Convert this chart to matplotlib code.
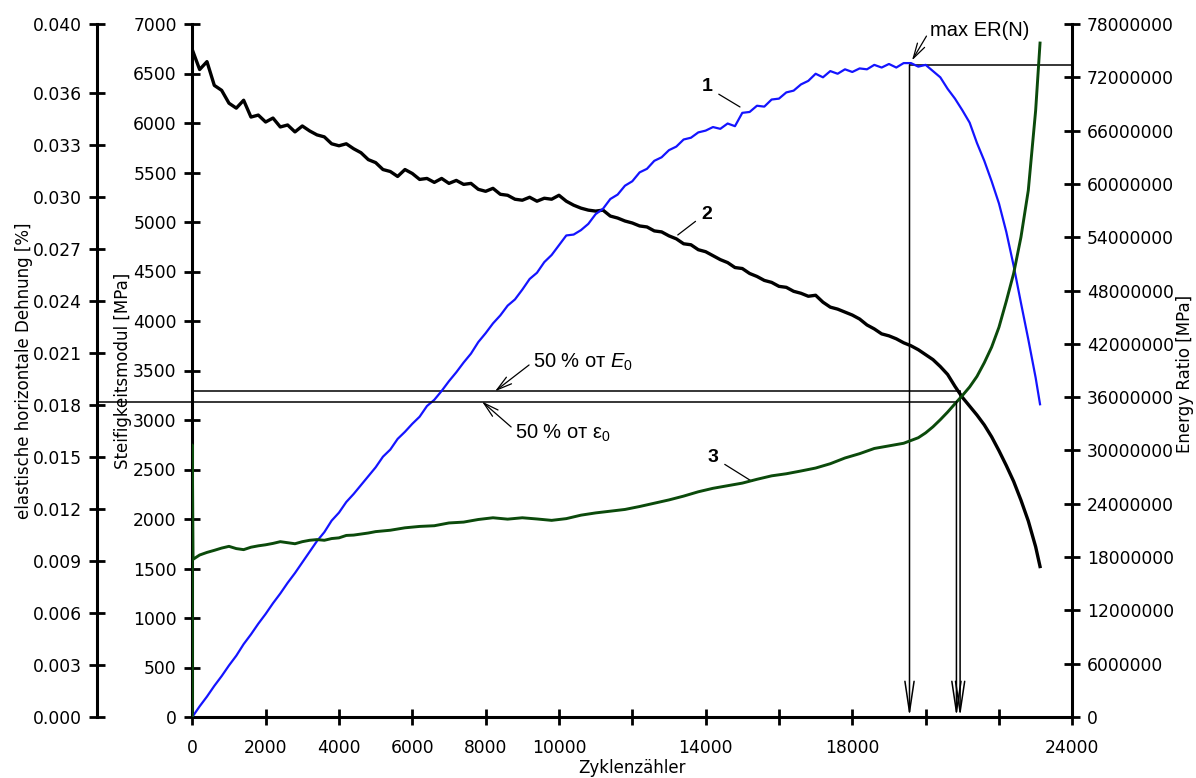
import matplotlib
matplotlib.use('Agg')
import matplotlib.pyplot as plt
from matplotlib.ticker import FixedLocator, FixedFormatter

# ---------------- data ----------------
# Curve 2: Steifigkeitsmodul E [MPa], readings every 200 cycles
E_CYC = list(range(0, 23001, 200)) + [23120]
E_VAL = [6740, 6540, 6620, 6380, 6330, 6200, 6150, 6230, 6060, 6080,
         6010, 6050, 5960, 5980, 5910, 5970, 5920, 5880, 5860, 5790,
         5770, 5790, 5740, 5700, 5630, 5600, 5530, 5510, 5460, 5530,
         5490, 5430, 5440, 5400, 5440, 5390, 5420, 5380, 5390, 5330,
         5310, 5340, 5280, 5270, 5230, 5220, 5250, 5210, 5240, 5230,
         5270, 5210, 5170, 5140, 5120, 5110, 5120, 5060, 5040, 5010,
         4990, 4960, 4950, 4910, 4900, 4860, 4830, 4780, 4770, 4720,
         4700, 4660, 4620, 4590, 4540, 4530, 4480, 4450, 4410, 4390,
         4350, 4340, 4300, 4280, 4250, 4260, 4190, 4140, 4120, 4090,
         4060, 4020, 3960, 3920, 3870, 3850, 3820, 3780, 3750, 3710,
         3660, 3610, 3540, 3460, 3340, 3230, 3140, 3050, 2950, 2830,
         2690, 2540, 2380, 2190, 1980, 1720,
         1520]

# Curve 1: Energy Ratio [MPa] (in millions), readings every 200 cycles
ER_CYC = list(range(0, 23001, 200)) + [23120]
ER_MIO = [0.0, 1.2, 2.3, 3.5, 4.6, 5.8, 6.9, 8.2, 9.3, 10.5,
          11.6, 12.8, 13.9, 15.1, 16.2, 17.4, 18.6, 19.8, 20.8, 22.1,
          23.0, 24.2, 25.1, 26.1, 27.1, 28.1, 29.3, 30.1, 31.3, 32.1,
          33.0, 33.8, 35.0, 35.7, 36.7, 37.8, 38.8, 39.9, 40.9, 42.2,
          43.2, 44.3, 45.2, 46.3, 47.0, 48.1, 49.3, 50.0, 51.2, 52.0,
          53.1, 54.2, 54.3, 54.8, 55.5, 56.6, 57.2, 58.3, 58.8, 59.8,
          60.3, 61.3, 61.7, 62.6, 63.0, 63.8, 64.2, 65.0, 65.2, 65.8,
          66.0, 66.4, 66.2, 66.8, 66.5, 68.0, 68.1, 68.8, 68.7, 69.5,
          69.6, 70.3, 70.5, 71.2, 71.6, 72.4, 72.0, 72.7, 72.4, 72.9,
          72.6, 73.0, 72.9, 73.4, 73.1, 73.5, 73.1, 73.6, 73.6, 73.2,
          73.4, 72.7, 72.0, 70.7, 69.6, 68.3, 66.9, 64.6, 62.6, 60.3,
          57.8, 54.6, 50.8, 46.6, 42.5, 38.2,
          35.2]

# Curve 3: elastische horizontale Dehnung [%]
EPS_CYC = [0, 0, 20, 200, 400, 600, 800, 1000, 1200, 1400, 1600, 1800,
           2000, 2200, 2400, 2600, 2800, 3000, 3200, 3400, 3600, 3800,
           4000, 4200, 4400, 4600, 4800, 5000, 5400, 5800, 6200, 6600,
           7000, 7400, 7800, 8200, 8600, 9000, 9400, 9800, 10200, 10600,
           11000, 11400, 11800, 12200, 12600, 13000, 13400, 13800, 14200, 14600,
           15000, 15400, 15800, 16200, 16600, 17000, 17400, 17800, 18200, 18600,
           19000, 19400, 19800, 20000, 20200, 20400, 20600, 20800, 21000, 21200,
           21400, 21600, 21800, 22000, 22200, 22400, 22600, 22800, 23000, 23120]
EPS_VAL = [0.0, 0.0157, 0.0091, 0.00935, 0.00950, 0.00962, 0.00975, 0.00985, 0.00972,
           0.00966, 0.00980, 0.00988,
           0.00994, 0.01002, 0.01012, 0.01006, 0.01000, 0.01012, 0.01020, 0.01024,
           0.01020, 0.01030,
           0.01034, 0.01048, 0.01050, 0.01056, 0.01062, 0.01070, 0.01078, 0.01092,
           0.01100, 0.01104,
           0.01120, 0.01125, 0.01140, 0.01150, 0.01142, 0.01150, 0.01143, 0.01135,
           0.01145, 0.01165,
           0.01178, 0.01188, 0.01198, 0.01215, 0.01234, 0.01253, 0.01275, 0.01300,
           0.01320, 0.01335,
           0.01350, 0.01372, 0.01392, 0.01404, 0.01420, 0.01437, 0.01462, 0.01495,
           0.01520, 0.01550,
           0.01565, 0.01580, 0.01612, 0.01640, 0.01675, 0.01716, 0.01760, 0.01808,
           0.01855, 0.01905,
           0.01966, 0.02045, 0.02135, 0.02250, 0.02400, 0.02560, 0.02770, 0.03040,
           0.03500, 0.03890]

# reference values
C_MAX_ER, ER_MAX = 19560, 73.4e6          # max ER(N)
C_E50, E_50 = 20940, 3290                 # 50 % of E0
C_EPS50, EPS_50 = 20840, 0.01821          # 50 % of eps0

# ticks
X_TICKS = [0, 2000, 4000, 6000, 8000, 10000, 12000, 14000, 16000, 18000, 20000, 22000, 24000]
X_LABELS = ['0', '2000', '4000', '6000', '8000', '10000', '', '14000', '', '18000', '', '', '24000']
E_TICKS = [0, 500, 1000, 1500, 2000, 2500, 3000, 3500, 4000, 4500, 5000, 5500, 6000, 6500, 7000]
ER_TICKS = [0, 6e6, 12e6, 18e6, 24e6, 30e6, 36e6, 42e6, 48e6, 54e6, 60e6, 66e6, 72e6, 78e6]
EPS_TICKS = [0.000, 0.003, 0.006, 0.009, 0.012, 0.015, 0.018, 0.021, 0.024, 0.027,
             0.030, 0.033, 0.036, 0.040]

# ---------------- style ----------------
plt.rcParams['font.family'] = ['DejaVu Sans']
plt.rcParams['font.size'] = 12
plt.rcParams['mathtext.fontset'] = 'custom'
plt.rcParams['mathtext.rm'] = 'Liberation Sans'
plt.rcParams['mathtext.it'] = 'Liberation Sans:italic'

W, H = 1196, 778
fig = plt.figure(figsize=(W / 100, H / 100), dpi=100)
ax = fig.add_axes([192.3 / W, 1 - 717 / H, 880 / W, 693 / H])
ax_er = ax.twinx()
ax_eps = ax.twinx()

EPS_SPINE = -0.1083
SP_LW = 2.2

for a in (ax, ax_er, ax_eps):
    a.set_xlim(0, 24000)
    for s in a.spines.values():
        s.set_visible(False)
    a.patch.set_visible(False)
ax.set_ylim(0, 7000)
ax_er.set_ylim(0, 78e6)
ax_eps.set_ylim(0, 0.040)

ax.spines['left'].set_visible(True)
ax.spines['bottom'].set_visible(True)
ax_er.spines['right'].set_visible(True)
ax_eps.spines['left'].set_visible(True)
ax_eps.spines['left'].set_position(('axes', EPS_SPINE))
ax_eps.yaxis.set_ticks_position('left')
ax_eps.yaxis.set_label_position('left')
for a, side in ((ax, 'left'), (ax, 'bottom'), (ax_er, 'right'), (ax_eps, 'left')):
    a.spines[side].set_linewidth(SP_LW)

ax.xaxis.set_major_locator(FixedLocator(X_TICKS))
ax.xaxis.set_major_formatter(FixedFormatter(X_LABELS))
ax.yaxis.set_major_locator(FixedLocator(E_TICKS))
ax.yaxis.set_major_formatter(FixedFormatter([str(v) for v in E_TICKS]))
ax_er.yaxis.set_major_locator(FixedLocator(ER_TICKS))
ax_er.yaxis.set_major_formatter(FixedFormatter(['%d' % v for v in ER_TICKS]))
ax_eps.yaxis.set_major_locator(FixedLocator(EPS_TICKS))
ax_eps.yaxis.set_major_formatter(FixedFormatter(['%.3f' % v for v in EPS_TICKS]))

TS = 12.3
ax.tick_params(axis='x', direction='inout', length=11.5, width=2, pad=10, labelsize=TS)
ax.tick_params(axis='y', direction='inout', length=11.5, width=2, pad=5.5, labelsize=TS)
ax_er.tick_params(axis='y', direction='inout', length=11.5, width=2, pad=4.8, labelsize=TS)
ax_eps.tick_params(axis='y', direction='inout', length=11.5, width=2, pad=5, labelsize=TS)

# axis labels
ax.set_xlabel('Zyklenzähler', fontsize=12)
ax.xaxis.set_label_coords(0.5, -0.0736)
ax.xaxis.label.set_va('center')
ax.set_ylabel('Steifigkeitsmodul [MPa]', fontsize=12)
ax.yaxis.set_label_coords(-0.0782, 0.5)
ax.yaxis.label.set_va('center')
ax_eps.set_ylabel('elastische horizontale Dehnung [%]', fontsize=12)
ax_eps.yaxis.set_label_coords(-0.1913, 0.5)
ax_eps.yaxis.label.set_va('center')
ax_er.set_ylabel('Energy Ratio [MPa]', fontsize=12, rotation=90)
ax_er.yaxis.set_label_coords(1.128, 0.495)
ax_er.yaxis.label.set_va('center')

# ---------------- curves ----------------
ax.plot(E_CYC, E_VAL, color='black', lw=2.4, zorder=3)
ax_er.plot(ER_CYC, [v * 1e6 for v in ER_MIO], color='#1414ff', lw=1.6, zorder=3)
ax_eps.plot(EPS_CYC, EPS_VAL, color='#0b4a0b', lw=2.1, zorder=3)

REF = dict(color='black', lw=1.1)
VARROW = dict(arrowstyle='->,head_length=2.2,head_width=0.33', color='black', lw=1.1,
              shrinkA=0, shrinkB=0, mutation_scale=10)

# max ER line + vertical arrow
ax_er.plot([C_MAX_ER, 24000], [ER_MAX, ER_MAX], clip_on=False, **REF)
ax_er.annotate('', xy=(C_MAX_ER, 0), xytext=(C_MAX_ER, ER_MAX), arrowprops=VARROW)
# 50 % E0
ax.plot([0, C_E50], [E_50, E_50], **REF)
ax.annotate('', xy=(C_E50, 0), xytext=(C_E50, E_50), arrowprops=VARROW)
# 50 % eps0 (starts at the strain spine)
x0, x1 = ax.get_xlim()
c_left = x0 + EPS_SPINE * (x1 - x0)
ax_eps.plot([c_left, C_EPS50], [EPS_50, EPS_50], clip_on=False, **REF)
ax_eps.annotate('', xy=(C_EPS50, 0), xytext=(C_EPS50, EPS_50), arrowprops=VARROW)

# ---------------- annotations ----------------
PTR = dict(arrowstyle='->,head_length=1.1,head_width=0.3', color='black', lw=0.9,
           shrinkA=1, shrinkB=0, mutation_scale=10)
ANN_FONT = dict(family='Liberation Sans', fontsize=14.5)

ax_er.annotate('max ER(N)', xy=(19628, 73.9e6), xytext=(20118, 77.3e6),
               ha='left', va='center', arrowprops=dict(PTR, relpos=(0, 0.5)), **ANN_FONT)
ax.annotate('50 % от $E_0$', xy=(8255, E_50), xytext=(9290, 3586),
            ha='left', va='center', arrowprops=dict(PTR, relpos=(0, 0.5)), **ANN_FONT)
ax_eps.annotate(r'50 % от $\mathrm{ε}_0$', xy=(7900, EPS_50), xytext=(8800, 0.01640),
                ha='left', va='center', arrowprops=dict(PTR, relpos=(0, 0.62)), **ANN_FONT)

LEAD = dict(arrowstyle='-', color='black', lw=0.9, shrinkA=3, shrinkB=0)
NUM_FONT = dict(family='Liberation Sans', fontsize=14, fontweight='bold')
ax.annotate('1', xy=(14937, 6162), xytext=(14037, 6364), ha='center', va='center',
            arrowprops=dict(LEAD, relpos=(1, 0.3)), **NUM_FONT)
ax.annotate('2', xy=(13240, 4869), xytext=(14037, 5071), ha='center', va='center',
            arrowprops=dict(LEAD, relpos=(0, 0.4)), **NUM_FONT)
ax.annotate('3', xy=(15264, 2380), xytext=(14201, 2626), ha='center', va='center',
            arrowprops=dict(LEAD, relpos=(1, 0.3)), **NUM_FONT)

fig.savefig('out.png', dpi=100)
